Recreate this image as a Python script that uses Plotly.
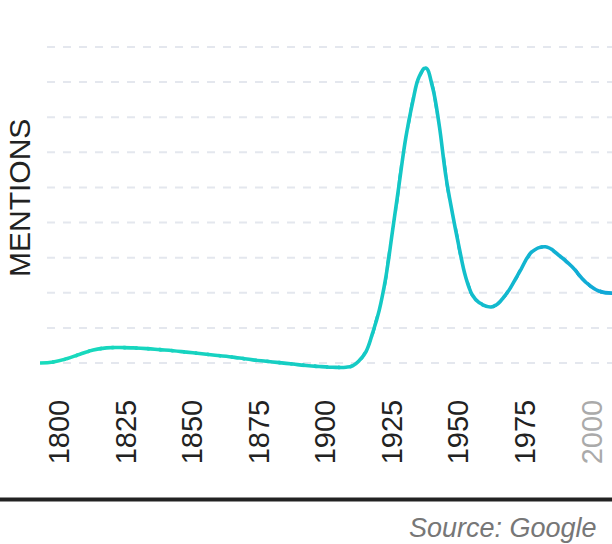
import plotly.graph_objects as go

# ---- data (values in gridline units) ----
years = [1800, 1805, 1810, 1815, 1820, 1825, 1830, 1835, 1840, 1845, 1850,
         1855, 1860, 1865, 1870, 1875, 1880, 1885, 1890, 1895, 1900, 1905,
         1910, 1915, 1917.5, 1920, 1922.5, 1925, 1927.5, 1930, 1932.5, 1935,
         1937.5, 1940, 1942.5, 1945, 1947.5, 1950, 1952.5, 1955, 1957.5, 1960,
         1962.5, 1965, 1970, 1975, 1980, 1985, 1990, 1995, 2000, 2005, 2010, 2015]
mentions = [0.0, 0.03, 0.12, 0.25, 0.37, 0.43, 0.44, 0.43, 0.41, 0.38, 0.35,
            0.31, 0.27, 0.23, 0.19, 0.14, 0.09, 0.05, 0.01, -0.03, -0.07, -0.10,
            -0.12, -0.12, -0.08, 0.07, 0.32, 0.85, 1.5, 2.45, 3.76, 5.1,
            6.42, 7.4, 8.15, 8.4, 7.87, 6.8, 5.35, 4.27, 3.31, 2.45,
            1.94, 1.72, 1.6, 1.94, 2.56, 3.17, 3.31, 3.07, 2.74, 2.31, 2.05, 1.99]
tick_years = [1800, 1825, 1850, 1875, 1900, 1925, 1950, 1975, 2000]
tick_labels = ["1800", "1825", "1850", "1875", "1900", "1925", "1950", "1975",
               "<span style='color:#aaaaaa'>2000</span>"]
grid_values = [0, 1, 2, 3, 4, 5, 6, 7, 8, 9]

W, H = 612, 544
ML, MR, MT, MB = 40, 0, 20, 164
PW, PH = W - ML - MR, H - MT - MB
X0, X1 = 1800, 2015
Y0, Y1 = -0.484, 9.769


def px_x(p):
    return (p - ML) / PW


def px_y(p):
    return (H - MB - p) / PH


stops = [(0.0, (24, 219, 188)), (0.65, (20, 199, 198)), (1.0, (16, 167, 216))]


def grad(t):
    for (a, ca), (b, cb) in zip(stops[:-1], stops[1:]):
        if a <= t <= b:
            f = (t - a) / (b - a)
            c = [round(ca[k] + (cb[k] - ca[k]) * f) for k in range(3)]
            return "rgb(%d,%d,%d)" % tuple(c)
    return "rgb(%d,%d,%d)" % stops[-1][1]


fig = go.Figure()
# base (invisible) trace on main axes
fig.add_trace(go.Scatter(x=years, y=mentions, mode="lines", opacity=0,
                         hoverinfo="skip", showlegend=False))

N = 48
ov = 0.004
layout_axes = {}
for i in range(N):
    d0 = i / N
    d1 = min(1.0, (i + 1) / N + ov)
    name = "x%d" % (i + 2)
    layout_axes["xaxis%d" % (i + 2)] = dict(
        domain=[d0, d1], range=[X0 + (X1 - X0) * d0, X0 + (X1 - X0) * d1],
        visible=False, anchor="y", fixedrange=True)
    fig.add_trace(go.Scatter(
        x=years, y=mentions, mode="lines", xaxis=name, yaxis="y",
        line=dict(color=grad((i + 0.5) / N), width=3.6, shape="spline", smoothing=1.2),
        hoverinfo="skip", showlegend=False))

shapes = []
for v in grid_values:
    shapes.append(dict(type="line", xref="paper", yref="y", x0=px_x(47), x1=1,
                       y0=v, y1=v, layer="below",
                       line=dict(color="#e4e7ee", width=2, dash="8px,8px")))
shapes.append(dict(type="line", xref="paper", yref="paper", x0=px_x(0), x1=1,
                   y0=px_y(499.5), y1=px_y(499.5),
                   line=dict(color="#222222", width=4)))

fig.update_layout(
    width=W, height=H,
    margin=dict(l=ML, r=MR, t=MT, b=MB),
    paper_bgcolor="white", plot_bgcolor="rgba(0,0,0,0)",
    showlegend=False,
    xaxis=dict(domain=[0, 1], range=[X0, X1], tickmode="array", tickvals=tick_years,
               ticktext=tick_labels, tickangle=-90, ticks="", showgrid=False,
               zeroline=False, showline=False, ticklabelshift=20, ticklabelstandoff=13,
               tickfont=dict(family="Liberation Sans", size=29, color="#222222"),
               automargin=False, fixedrange=True),
    yaxis=dict(range=[Y0, Y1], showticklabels=False, showgrid=False, zeroline=False,
               showline=False, ticks="", automargin=False, fixedrange=True),
    shapes=shapes,
    annotations=[
        dict(text="MENTIONS", xref="paper", yref="paper", x=px_x(19), y=px_y(198),
             xanchor="center", yanchor="middle", textangle=-90, showarrow=False,
             font=dict(family="Liberation Sans", size=30, color="#222222")),
        dict(text="Source: Google", xref="paper", yref="paper", x=px_x(599), y=px_y(528),
             xanchor="right", yanchor="middle", showarrow=False,
             font=dict(family="Liberation Sans", size=27, color="#777777", style="italic")),
    ],
    **layout_axes,
)

fig.write_html("out.html")
